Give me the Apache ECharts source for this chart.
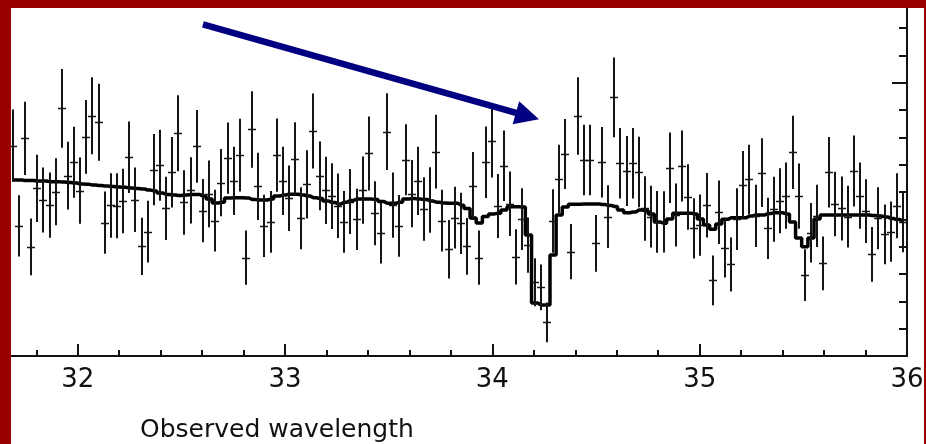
<!DOCTYPE html>
<html><head><meta charset="utf-8">
<script src="https://cdn.jsdelivr.net/npm/echarts@6/dist/echarts.min.js"></script>
<style>
html,body{margin:0;padding:0;background:#990000;width:926px;height:444px;overflow:hidden;}
#chart{position:absolute;left:11px;top:8px;width:913px;height:436px;background:#ffffff;}
</style></head><body><div id="chart"></div>
<script>
// Observed wavelength of each data bin
const wavelength = [31.686,31.716,31.745,31.775,31.804,31.834,31.864,31.893,31.923,31.953,
31.982,32.012,32.041,32.071,32.101,32.130,32.160,32.190,32.219,32.249,
32.278,32.308,32.338,32.367,32.397,32.427,32.456,32.486,32.515,32.545,
32.575,32.604,32.634,32.663,32.693,32.723,32.752,32.782,32.812,32.841,
32.871,32.900,32.930,32.960,32.989,33.019,33.049,33.078,33.108,33.137,
33.167,33.197,33.226,33.256,33.285,33.315,33.345,33.374,33.404,33.434,
33.463,33.493,33.522,33.552,33.582,33.611,33.641,33.671,33.700,33.730,
33.759,33.789,33.819,33.848,33.878,33.907,33.937,33.967,33.996,34.026,
34.056,34.085,34.115,34.144,34.174,34.204,34.233,34.263,34.293,34.322,
34.352,34.381,34.411,34.441,34.470,34.500,34.530,34.559,34.589,34.618,
34.648,34.678,34.707,34.737,34.766,34.796,34.826,34.855,34.885,34.915,
34.944,34.974,35.003,35.033,35.063,35.092,35.122,35.152,35.181,35.211,
35.240,35.270,35.300,35.329,35.359,35.388,35.418,35.448,35.477,35.507,
35.537,35.566,35.596,35.625,35.655,35.685,35.714,35.744,35.774,35.803,
35.833,35.862,35.892,35.922,35.951,35.981];

// Measured flux (arbitrary units) per bin
const flux = [7.70,4.76,7.96,3.99,6.13,5.71,5.52,6.01,9.06,6.60,
7.09,6.05,8.02,8.79,8.55,4.88,5.51,5.50,5.67,7.27,
5.72,4.01,4.55,6.82,6.98,5.40,6.72,8.15,5.62,6.06,
7.67,5.32,5.93,4.95,6.34,7.24,6.41,7.35,3.60,8.29,
6.21,4.76,4.91,7.35,6.41,5.77,7.21,5.04,6.28,8.23,
6.59,6.06,5.85,5.50,4.91,5.65,5.00,6.07,7.41,5.22,
4.49,8.21,5.52,4.76,7.18,5.94,6.41,5.38,5.71,7.48,
4.95,3.91,5.06,4.85,4.01,6.22,3.60,7.09,7.88,5.49,
6.96,5.57,3.63,5.01,4.06,2.70,2.51,1.23,4.94,6.48,
7.39,3.82,8.78,7.17,7.17,4.12,7.09,5.10,9.46,7.05,
6.77,7.05,6.73,5.40,5.10,4.91,4.91,6.89,5.16,6.95,
5.82,4.67,4.79,5.52,2.77,5.26,3.94,3.35,5.01,6.26,
6.46,5.13,6.71,4.67,5.37,5.68,5.87,7.45,5.85,2.96,
4.51,5.13,3.39,6.72,5.56,5.40,5.10,6.77,5.87,5.30,
3.72,5.04,4.45,4.55,5.50,4.91];

// One-sigma error of each bin
const fluxErr = [1.32,1.12,1.34,1.04,1.23,1.19,1.19,1.23,1.44,1.24,
1.30,1.21,1.35,1.41,1.41,1.14,1.18,1.19,1.18,1.31,
1.18,1.05,1.13,1.30,1.30,1.16,1.29,1.39,1.18,1.21,
1.33,1.16,1.22,1.13,1.23,1.30,1.25,1.33,0.99,1.40,
1.23,1.14,1.13,1.34,1.25,1.20,1.34,1.13,1.25,1.37,
1.26,1.23,1.20,1.18,1.13,1.19,1.12,1.23,1.35,1.17,
1.11,1.40,1.19,1.13,1.30,1.23,1.25,1.16,1.20,1.35,
1.13,1.07,1.13,1.12,1.04,1.24,0.99,1.31,1.35,1.17,
1.29,1.18,1.01,1.13,1.01,0.88,0.84,0.73,1.16,1.25,
1.28,1.01,1.42,1.29,1.29,1.04,1.29,1.15,1.46,1.29,
1.28,1.29,1.29,1.18,1.13,1.13,1.12,1.29,1.15,1.30,
1.20,1.10,1.12,1.18,0.91,1.16,1.07,0.99,1.13,1.24,
1.27,1.14,1.26,1.12,1.19,1.19,1.21,1.34,1.19,0.95,
1.09,1.14,0.98,1.29,1.18,1.17,1.13,1.30,1.21,1.17,
1.00,1.13,1.09,1.10,1.19,1.11];

// Model (histogram) per bin
const model = [6.44,6.44,6.42,6.42,6.40,6.40,6.38,6.38,6.37,6.35,
6.33,6.29,6.28,6.26,6.24,6.22,6.20,6.18,6.17,6.15,
6.13,6.11,6.07,6.04,5.96,5.91,5.89,5.87,5.89,5.91,
5.91,5.85,5.74,5.60,5.63,5.78,5.79,5.79,5.78,5.73,
5.71,5.71,5.74,5.85,5.89,5.92,5.92,5.89,5.85,5.79,
5.76,5.67,5.62,5.56,5.63,5.69,5.74,5.74,5.74,5.73,
5.65,5.59,5.59,5.63,5.74,5.76,5.74,5.73,5.67,5.63,
5.60,5.59,5.59,5.52,5.40,5.05,4.87,5.10,5.20,5.22,
5.34,5.46,5.46,5.45,4.43,1.94,1.87,1.87,3.70,5.16,
5.45,5.55,5.55,5.56,5.56,5.56,5.54,5.51,5.47,5.34,
5.24,5.27,5.34,5.32,5.20,4.90,4.86,5.01,5.22,5.22,
5.22,5.20,5.01,4.79,4.64,4.83,5.00,5.06,5.06,5.06,
5.12,5.16,5.16,5.21,5.24,5.24,5.20,4.90,4.32,4.00,
4.32,5.01,5.16,5.16,5.16,5.16,5.16,5.16,5.16,5.16,
5.14,5.12,5.09,5.03,4.99,4.94];

// Annotation arrow (data coordinates: wavelength, flux)
const arrowFrom = [32.604, 12.13];
const arrowTo = [34.225, 8.66];

const xAxisTitle = 'Observed wavelength';

const ink = '#111111';
const chart = echarts.init(document.getElementById('chart'), null, {renderer: 'canvas'});

chart.setOption({
  animation: false,
  backgroundColor: '#ffffff',
  title: {
    text: xAxisTitle, left: 129, top: 410, padding: 0,
    textStyle: {fontFamily: 'DejaVu Sans', fontSize: 25, fontWeight: 'normal', color: ink}
  },
  grid: {left: -140.6, right: 17, top: -7.3, bottom: 88, containLabel: false, outerBoundsMode: 'none'},
  xAxis: {
    type: 'value', min: 31, max: 36, interval: 1,
    axisLine: {show: true, onZero: false, lineStyle: {color: ink, width: 2}},
    axisTick: {show: true, inside: true, length: 12, lineStyle: {color: ink, width: 2}},
    minorTick: {show: true, splitNumber: 5, length: 6, lineStyle: {color: ink, width: 2}},
    axisLabel: {show: true, margin: 11, fontFamily: 'DejaVu Sans', fontSize: 26, color: ink},
    splitLine: {show: false}, minorSplitLine: {show: false}
  },
  yAxis: {
    type: 'value', position: 'right', min: 0, max: 13, interval: 10,
    axisLine: {show: true, onZero: false, lineStyle: {color: ink, width: 2}},
    axisTick: {show: true, inside: true, length: 15, lineStyle: {color: ink, width: 2}},
    minorTick: {show: true, splitNumber: 10, length: 8, lineStyle: {color: ink, width: 2}},
    axisLabel: {show: false},
    splitLine: {show: false}, minorSplitLine: {show: false}
  },
  series: [
    {
      type: 'line', step: 'middle', symbol: 'none', z: 2,
      data: wavelength.map((w, i) => [w, model[i]]),
      lineStyle: {color: '#000000', width: 3.5}
    },
    {
      type: 'custom', z: 3,
      data: wavelength.map((w, i) => [w, flux[i], fluxErr[i]]),
      encode: {x: 0, y: 1},
      renderItem: function (params, api) {
        const x = api.value(0), y = api.value(1), e = api.value(2);
        const c = api.coord([x, y]);
        const t = api.coord([x, y + e]);
        const b = api.coord([x, y - e]);
        const px = Math.round(c[0]);
        const cy = Math.round(c[1]) + 0.5;
        return {type: 'group', children: [
          {type: 'line', shape: {x1: px, y1: t[1], x2: px, y2: b[1]}, style: {stroke: '#151515', lineWidth: 2}},
          {type: 'line', shape: {x1: px - 4, y1: cy, x2: px + 4, y2: cy}, style: {stroke: '#151515', lineWidth: 1.5}}
        ]};
      }
    },
    {
      type: 'custom', z: 5,
      data: [[arrowFrom[0], arrowFrom[1], arrowTo[0], arrowTo[1]]],
      encode: {x: [0, 2], y: [1, 3]},
      renderItem: function (params, api) {
        const p0 = api.coord([api.value(0), api.value(1)]);
        const p1 = api.coord([api.value(2), api.value(3)]);
        const dx = p1[0] - p0[0], dy = p1[1] - p0[1];
        const len = Math.sqrt(dx * dx + dy * dy);
        const ux = dx / len, uy = dy / len;
        const nx = -uy, ny = ux;
        const headLen = 24, headHalf = 12;
        const bx = p1[0] - ux * headLen, by = p1[1] - uy * headLen;
        return {type: 'group', children: [
          {type: 'line', shape: {x1: p0[0], y1: p0[1], x2: bx + ux * 2, y2: by + uy * 2},
           style: {stroke: '#000080', lineWidth: 6.5}},
          {type: 'polygon', shape: {points: [[p1[0], p1[1]], [bx + nx * headHalf, by + ny * headHalf], [bx - nx * headHalf, by - ny * headHalf]]},
           style: {fill: '#000080'}}
        ]};
      }
    }
  ]
});
</script></body></html>
